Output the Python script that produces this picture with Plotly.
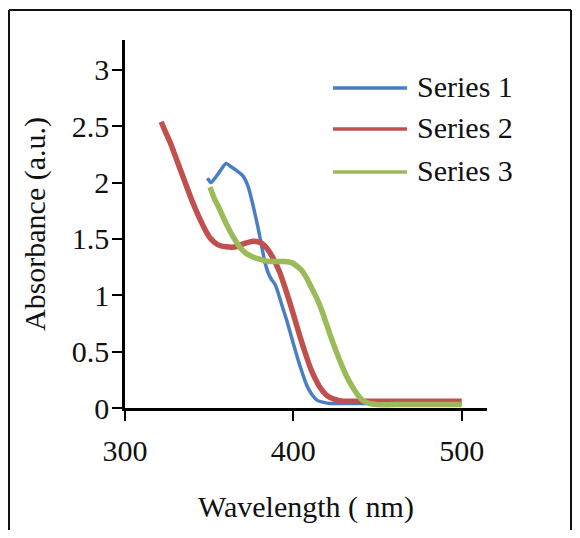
import plotly.graph_objects as go

# Series 1 (blue)
s1_nm = [349, 351, 355, 360, 363, 366, 370, 373, 376, 379, 381, 383, 385, 387, 389, 391, 393, 396,
         400, 404, 408, 411, 414, 418, 422, 430, 450, 475, 500]
s1_abs = [2.04, 2.00, 2.07, 2.17, 2.14, 2.11, 2.06, 1.97, 1.80, 1.60, 1.45, 1.30, 1.20, 1.14, 1.10,
          1.02, 0.92, 0.78, 0.57, 0.37, 0.20, 0.12, 0.07, 0.05, 0.04, 0.04, 0.04, 0.04, 0.04]

# Series 2 (red)
s2_nm = [321.5, 324, 327, 330, 333, 336, 339, 342, 345, 348, 351, 355, 360, 366, 371, 376, 380, 383,
         386, 389, 392, 395, 398, 401, 404, 407, 410, 413, 416, 420, 424, 429, 435, 445, 460, 480, 500]
s2_abs = [2.54, 2.45, 2.35, 2.23, 2.11, 1.99, 1.87, 1.76, 1.66, 1.57, 1.50, 1.45, 1.43, 1.43, 1.46,
          1.48, 1.47, 1.44, 1.38, 1.30, 1.20, 1.07, 0.93, 0.78, 0.63, 0.49, 0.36, 0.26, 0.18, 0.11,
          0.08, 0.06, 0.06, 0.06, 0.06, 0.06, 0.06]

# Series 3 (green)
s3_nm = [350.5, 353, 356, 359, 362, 365, 368, 372, 376, 380, 385, 390, 395, 399, 402, 405, 408, 411,
         414, 417, 420, 423, 426, 429, 432, 435, 438, 441, 445, 450, 460, 480, 500]
s3_abs = [1.96, 1.86, 1.77, 1.67, 1.58, 1.50, 1.43, 1.37, 1.34, 1.32, 1.30, 1.30, 1.30, 1.29, 1.26,
          1.22, 1.15, 1.06, 0.97, 0.86, 0.73, 0.60, 0.48, 0.37, 0.27, 0.19, 0.12, 0.07, 0.04, 0.03,
          0.03, 0.03, 0.03]

series_names = ["Series 1", "Series 2", "Series 3"]
colors = ["#4a7ec4", "#c0504d", "#9bbb59"]
widths = [3.5, 5.5, 5.5]

x_ticks = [300, 400, 500]
y_ticks = [0, 0.5, 1, 1.5, 2, 2.5, 3]
y_tick_text = ["0", "0.5", "1", "1.5", "2", "2.5", "3"]

FONT = "Liberation Serif"
FS = 30
fig = go.Figure()
data = [(s1_nm, s1_abs), (s2_nm, s2_abs), (s3_nm, s3_abs)]
for (x, y), name, c, w in zip(data, series_names, colors, widths):
    fig.add_trace(go.Scatter(x=x, y=y, mode="lines", name=name,
                             line=dict(color=c, width=w, shape="spline", smoothing=0.6),
                             showlegend=False))

# manual legend (paper coords; positions given in page pixels)
W_PLOT = 362.0
H_PLOT = 368.0
def px(xp):
    return (xp - 125) / W_PLOT
def py(yp):
    return (408 - yp) / H_PLOT

shapes = []
annotations = []
legend_y = [88, 129, 172]
for name, c, ly in zip(series_names, colors, legend_y):
    shapes.append(dict(type="line", xref="paper", yref="paper",
                       x0=px(333), x1=px(407), y0=py(ly), y1=py(ly),
                       line=dict(color=c, width=3.5)))
    annotations.append(dict(text=name, xref="paper", yref="paper", x=px(415), y=py(ly - 2),
                            xanchor="left", yanchor="middle", showarrow=False,
                            font=dict(family=FONT, size=FS, color="#111")))

# outer frame (three visible sides)
frame = dict(xref="paper", yref="paper", line=dict(color="#111", width=2), layer="below")
shapes.append(dict(type="line", x0=px(9), x1=px(571), y0=py(10), y1=py(10), **frame))
shapes.append(dict(type="line", x0=px(9), x1=px(9), y0=py(10), y1=py(560), **frame))
shapes.append(dict(type="line", x0=px(571), x1=px(571), y0=py(10), y1=py(560), **frame))

# page has an 8px body margin, so the figure is sized/offset to avoid scrollbars
fig.update_layout(
    width=564, height=522,
    margin=dict(l=117, r=85, t=32, b=122),
    paper_bgcolor="white", plot_bgcolor="white",
    font=dict(family=FONT, size=FS, color="#111"),
    shapes=shapes, annotations=annotations,
    showlegend=False,
)
fig.update_xaxes(range=[300, 515], tickvals=x_ticks, showgrid=False, zeroline=False,
                 showline=True, linecolor="black", linewidth=2.5,
                 ticks="outside", ticklen=10, tickwidth=2, tickcolor="black",
                 ticklabelstandoff=4,
                 title=dict(text="Wavelength ( nm)", standoff=31,
                            font=dict(family=FONT, size=FS, color="#111")))
fig.update_yaxes(range=[0, 3.265], tickvals=y_ticks, ticktext=y_tick_text, showgrid=False,
                 zeroline=False, showline=True, linecolor="black", linewidth=2.5,
                 ticks="outside", ticklen=10, tickwidth=2, tickcolor="black",
                 ticklabelstandoff=-3,
                 title=dict(text="Absorbance (a.u.)", standoff=18,
                            font=dict(family=FONT, size=FS, color="#111")))

fig.write_html("out.html")
